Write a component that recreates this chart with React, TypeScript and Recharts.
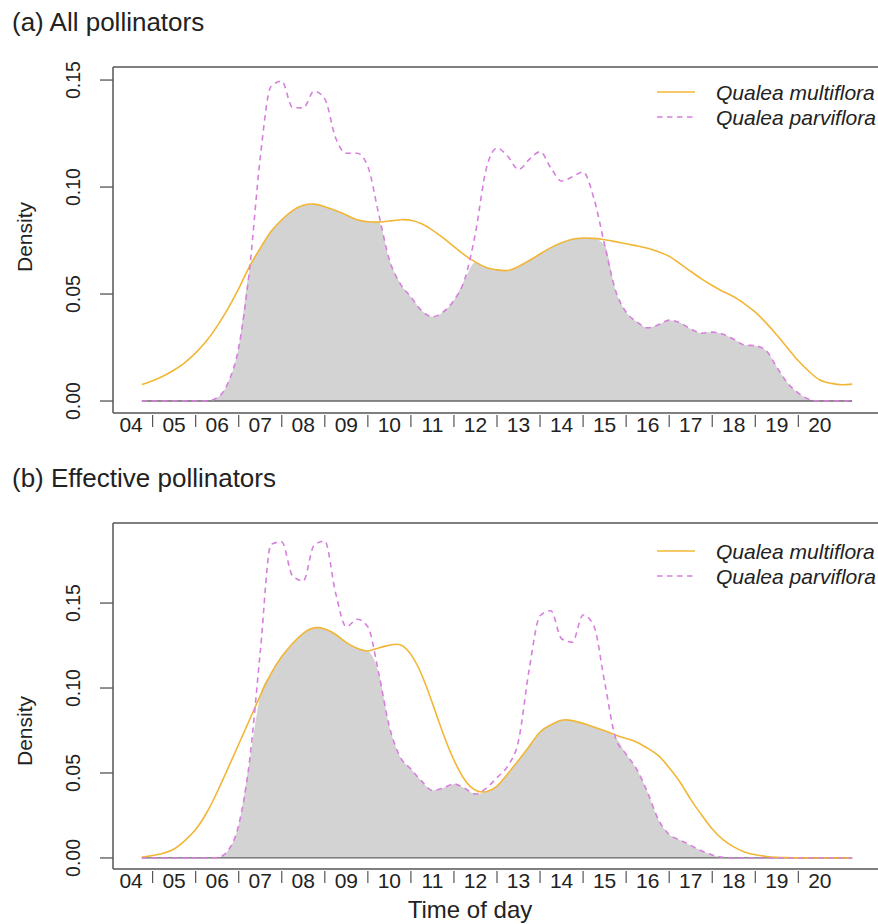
import React from "react";
import {
  ComposedChart,
  Area,
  Line,
  XAxis,
  YAxis,
  ReferenceLine,
} from "recharts";

// time of day (hours), shared sampling grid for every curve
const HOURS = [
  4.25, 4.5, 4.75, 5.0, 5.25, 5.5, 5.75, 6.0, 6.25, 6.5, 6.75, 7.0, 7.25, 7.5,
  7.75, 8.0, 8.25, 8.5, 8.75, 9.0, 9.25, 9.5, 9.75, 10.0, 10.25, 10.5, 10.75,
  11.0, 11.25, 11.5, 11.75, 12.0, 12.25, 12.5, 12.75, 13.0, 13.25, 13.5, 13.75,
  14.0, 14.25, 14.5, 14.75, 15.0, 15.25, 15.5, 15.75, 16.0, 16.25, 16.5, 16.75,
  17.0, 17.25, 17.5, 17.75, 18.0, 18.25, 18.5, 18.75, 19.0, 19.25, 19.5, 19.75,
  20.0, 20.25, 20.5, 20.75,
];

// (a) all pollinators
const MULTI_ALL = [
  0.0077, 0.0095, 0.0117, 0.0145, 0.018, 0.0225, 0.028, 0.035, 0.0432, 0.0525,
  0.0628, 0.0714, 0.0792, 0.0847, 0.089, 0.0915, 0.092, 0.0908, 0.089, 0.0869,
  0.0847, 0.0838, 0.0836, 0.0841, 0.0847, 0.0845, 0.0828, 0.0799, 0.0762, 0.0721,
  0.0682, 0.0649, 0.0624, 0.0613, 0.061, 0.0629, 0.0657, 0.0687, 0.0717, 0.074,
  0.0756, 0.0762, 0.076, 0.0754, 0.0745, 0.0735, 0.0725, 0.0714, 0.0698, 0.0676,
  0.0642, 0.0606, 0.0571, 0.054, 0.0512, 0.0487, 0.0454, 0.0415, 0.0365, 0.0309,
  0.0248, 0.0188, 0.0138, 0.0098, 0.0083, 0.0076, 0.0079,
];
const PARVI_ALL = [
  0, 0, 0, 0, 0, 0, 0, 0.0015, 0.0084, 0.025, 0.0611, 0.1137, 0.147, 0.1495,
  0.1372, 0.137, 0.1448, 0.1412, 0.123, 0.1158, 0.1158, 0.1096, 0.0876, 0.066,
  0.0549, 0.0486, 0.0422, 0.0394, 0.0416, 0.0471, 0.0568, 0.0786, 0.1085, 0.1182,
  0.1144, 0.1082, 0.1129, 0.1165, 0.109, 0.1028, 0.1048, 0.107, 0.0948, 0.073,
  0.0519, 0.0415, 0.037, 0.0342, 0.0356, 0.0378, 0.0366, 0.0337, 0.0317, 0.0322,
  0.0312, 0.0289, 0.0262, 0.0258, 0.0236, 0.0158, 0.0084, 0.0037, 0.0008, 0, 0,
  0, 0,
];

// (b) effective pollinators
const MULTI_EFF = [
  0.0006, 0.0014, 0.0028, 0.0053, 0.0102, 0.0167, 0.0263, 0.0388, 0.0527, 0.0669,
  0.0812, 0.0955, 0.1085, 0.1185, 0.1262, 0.1322, 0.1354, 0.1347, 0.1315, 0.1267,
  0.1234, 0.1218, 0.1236, 0.1252, 0.1255, 0.1198, 0.1078, 0.091, 0.0731, 0.0576,
  0.046, 0.0398, 0.039, 0.0423, 0.0495, 0.0575, 0.0657, 0.0741, 0.0783, 0.081,
  0.0808, 0.0792, 0.0771, 0.0749, 0.0724, 0.0703, 0.0681, 0.0645, 0.0602, 0.0531,
  0.0447, 0.0345, 0.0254, 0.017, 0.0108, 0.0065, 0.0035, 0.0019, 0.0009, 0.0004,
  0.0002, 0.0001, 0, 0, 0, 0, 0,
];
const PARVI_EFF = [
  0, 0, 0, 0, 0, 0, 0, 0.0002, 0.0043, 0.0194, 0.0567, 0.121, 0.1845, 0.186,
  0.166, 0.163, 0.184, 0.1865, 0.156, 0.136, 0.1405, 0.136, 0.109, 0.0773,
  0.0595, 0.0523, 0.0452, 0.0397, 0.0412, 0.0435, 0.041, 0.0376, 0.041, 0.0473,
  0.0541, 0.069, 0.1114, 0.1425, 0.1455, 0.129, 0.127, 0.143, 0.1365, 0.1035,
  0.071, 0.061, 0.052, 0.0384, 0.0225, 0.0138, 0.0106, 0.0074, 0.0042, 0.0018,
  0.0004, 0, 0, 0, 0, 0, 0, 0, 0, 0, 0, 0, 0,
];

const LABEL_HOURS = [4, 5, 6, 7, 8, 9, 10, 11, 12, 13, 14, 15, 16, 17, 18, 19, 20];
const Y_TICKS = [0, 0.05, 0.1, 0.15];
const SPECIES = ["Qualea multiflora", "Qualea parviflora"];

const ORANGE = "#F2B636";
const VIOLET = "#D77FDE";
const OVERLAP = "#D3D3D3";
const AXIS = "#555555";
const INK = "#222222";
const FONT = '"Liberation Sans", Arial, Helvetica, sans-serif';

// labels at the hours, small marks half way between them
const X_TICKS: number[] = [];
LABEL_HOURS.forEach((h, i) => {
  X_TICKS.push(h);
  if (i < LABEL_HOURS.length - 1) X_TICKS.push(h + 0.5);
});

function buildRows(multi: number[], parvi: number[]) {
  return HOURS.map((h, i) => ({
    h,
    multi: multi[i],
    parvi: parvi[i],
    overlap: Math.min(multi[i], parvi[i]),
  }));
}

const XTick = (props: any) => {
  const { x, y, payload } = props;
  const v = payload.value as number;
  if (Number.isInteger(v)) {
    return (
      <text x={x} y={y + 19} textAnchor="middle" fontSize={21} fill={INK} fontFamily={FONT}>
        {String(v).padStart(2, "0")}
      </text>
    );
  }
  return <line x1={x} x2={x} y1={y + 2} y2={y + 14} stroke={AXIS} strokeWidth={1.2} />;
};

const YTick = (props: any) => {
  const { x, y, payload } = props;
  const cx = x - 26.5;
  return (
    <text
      x={cx}
      y={y}
      transform={`rotate(-90 ${cx} ${y})`}
      textAnchor="middle"
      dominantBaseline="central"
      fontSize={19.5}
      fill={INK}
      fontFamily={FONT}
    >
      {(payload.value as number).toFixed(2)}
    </text>
  );
};

type PanelProps = {
  top: number;
  multi: number[];
  parvi: number[];
  yDomain: [number, number];
};

function DensityPanel({ top, multi, parvi, yDomain }: PanelProps) {
  const rows = buildRows(multi, parvi);
  return (
    <div style={{ position: "absolute", left: 0, top }}>
      <ComposedChart
        width={900}
        height={440}
        data={rows}
        margin={{ top: 67, right: 19, bottom: 0, left: 0 }}
      >
        <XAxis
          dataKey="h"
          type="number"
          domain={[3.58, 21.42]}
          allowDataOverflow
          ticks={X_TICKS}
          interval={0}
          tickLine={false}
          tickSize={0}
          tickMargin={0}
          height={27}
          axisLine={{ stroke: AXIS, strokeWidth: 1.5 }}
          tick={<XTick />}
        />
        <YAxis
          type="number"
          domain={yDomain}
          allowDataOverflow
          ticks={Y_TICKS}
          interval={0}
          width={113}
          tickSize={13}
          tickMargin={0}
          tickLine={{ stroke: AXIS, strokeWidth: 1.3 }}
          axisLine={{ stroke: AXIS, strokeWidth: 1.5 }}
          tick={<YTick />}
        />
        <ReferenceLine y={yDomain[1]} stroke={AXIS} strokeWidth={1.5} ifOverflow="visible" />
        <Area
          type="monotone"
          dataKey="overlap"
          fill={OVERLAP}
          fillOpacity={1}
          stroke="none"
          baseValue={0}
          isAnimationActive={false}
        />
        <ReferenceLine
          segment={[
            { x: HOURS[0], y: 0 },
            { x: HOURS[HOURS.length - 1], y: 0 },
          ]}
          stroke="#666666"
          strokeWidth={1.3}
        />
        <Line
          type="natural"
          dataKey="multi"
          stroke={ORANGE}
          strokeWidth={1.6}
          dot={false}
          activeDot={false}
          isAnimationActive={false}
        />
        <Line
          type="monotone"
          dataKey="parvi"
          stroke={VIOLET}
          strokeWidth={1.6}
          strokeDasharray="5.5 4.5"
          dot={false}
          activeDot={false}
          isAnimationActive={false}
        />
      </ComposedChart>
    </div>
  );
}

function Legend({ y }: { y: number }) {
  return (
    <g>
      <line x1={657} x2={695} y1={y} y2={y} stroke={ORANGE} strokeWidth={1.6} />
      <line x1={657} x2={695} y1={y + 25} y2={y + 25} stroke={VIOLET} strokeWidth={1.6} strokeDasharray="5.5 4.5" />
      <text x={716} y={y + 7.5} fontSize={21} fontStyle="italic" fill={INK} fontFamily={FONT}>
        {SPECIES[0]}
      </text>
      <text x={716} y={y + 32.5} fontSize={21} fontStyle="italic" fill={INK} fontFamily={FONT}>
        {SPECIES[1]}
      </text>
    </g>
  );
}

function Annotations() {
  return (
    <svg
      width={878}
      height={924}
      style={{ position: "absolute", left: 0, top: 0, pointerEvents: "none" }}
    >
      <text x={12} y={31} fontSize={26} fill={INK} fontFamily={FONT}>
        (a) All pollinators
      </text>
      <text x={12} y={487} fontSize={26} fill={INK} fontFamily={FONT}>
        (b) Effective pollinators
      </text>
      <text
        x={24}
        y={237}
        transform="rotate(-90 24 237)"
        textAnchor="middle"
        dominantBaseline="central"
        fontSize={21}
        fill={INK}
        fontFamily={FONT}
      >
        Density
      </text>
      <text
        x={24}
        y={731}
        transform="rotate(-90 24 731)"
        textAnchor="middle"
        dominantBaseline="central"
        fontSize={21}
        fill={INK}
        fontFamily={FONT}
      >
        Density
      </text>
      <Legend y={92} />
      <Legend y={551} />
      <text x={470} y={918} textAnchor="middle" fontSize={24} fill={INK} fontFamily={FONT}>
        Time of day
      </text>
    </svg>
  );
}

export default function App() {
  return (
    <div
      style={{
        position: "absolute",
        left: 0,
        top: 0,
        width: 878,
        height: 924,
        overflow: "hidden",
        background: "#ffffff",
        fontFamily: FONT,
      }}
    >
      <DensityPanel top={0} multi={MULTI_ALL} parvi={PARVI_ALL} yDomain={[-0.0056, 0.1561]} />
      <DensityPanel top={456} multi={MULTI_EFF} parvi={PARVI_EFF} yDomain={[-0.0065, 0.1971]} />
      <Annotations />
    </div>
  );
}
